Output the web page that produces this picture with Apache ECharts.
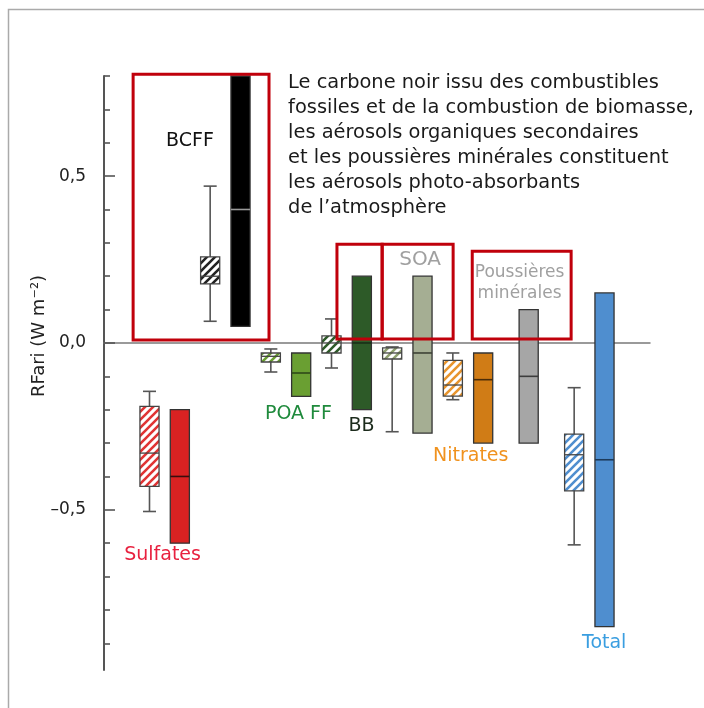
<!DOCTYPE html>
<html><head><meta charset="utf-8">
<script src="https://cdn.jsdelivr.net/npm/echarts@6/dist/echarts.min.js"></script>
<style>html,body{margin:0;padding:0;background:#fff}#c{width:704px;height:708px}</style>
</head><body><div id="c"></div>
<script>
// ---------- data ----------
const groups = ['Sulfates', 'BCFF', 'POA FF', 'BB', 'SOA', 'Nitrates', 'Poussières minérales', 'Total'];
// model ensemble (hatched): [low whisker, q1, median, q3, high whisker]
const ensembleStats = [
  [-0.505, -0.43, -0.33, -0.19, -0.145],
  [0.065, 0.177, 0.2, 0.258, 0.47],
  [-0.087, -0.057, -0.04, -0.03, -0.018],
  [-0.075, -0.03, 0.0, 0.021, 0.072],
  [-0.266, -0.048, -0.03, -0.015, -0.012],
  [-0.17, -0.159, -0.126, -0.052, -0.03],
  null,
  [-0.605, -0.443, -0.335, -0.273, -0.134]
];
// assessed range (solid): [low, best, high]
const assessedRange = [
  [-0.6, -0.4, -0.2],
  [0.05, 0.4, 0.8],
  [-0.16, -0.09, -0.03],
  [-0.2, 0.0, 0.2],
  [-0.27, -0.03, 0.2],
  [-0.3, -0.11, -0.03],
  [-0.3, -0.1, 0.1],
  [-0.85, -0.35, 0.15]
];
// category slots along the x axis
const ensembleSlot = [0, 2, 4, 6, 8, 10, null, 14];
const rangeSlot = [1, 3, 5, 7, 9, 11, 12.5, 15];
// y-axis ticks
const majorTicks = [-0.5, 0, 0.5];
const minorTicks = [-0.9, -0.8, -0.7, -0.6, -0.4, -0.3, -0.2, -0.1, 0.1, 0.2, 0.3, 0.4, 0.6, 0.7, 0.8];
// highlighted regions: [xFrom, xTo, yFrom, yTo]
const highlightBoxes = [
  [-0.54, 3.94, 0.009, 0.805],
  [6.18, 7.67, 0.012, 0.296],
  [7.67, 10.01, 0.012, 0.296],
  [10.64, 13.9, 0.012, 0.275]
];
const labelTexts = ['Sulfates', 'BCFF', 'POA FF', 'BB', 'SOA', 'Nitrates', 'Poussières\nminérales', 'Total'];
const paragraphText = 'Le carbone noir issu des combustibles\nfossiles et de la combustion de biomasse,\nles aérosols organiques secondaires\net les poussières minérales constituent\nles aérosols photo-absorbants\nde l’atmosphère';
const yAxisName = 'RFari (W m⁻²)';

// ---------- styles / layout ----------
const FONT = '"DejaVu Sans", sans-serif';
const fillColors = ['#d92222', '#000000', '#6a9f32', '#2d5a28', '#a5ae93', '#d07c16', '#a6a6a6', '#4f8ecf'];
const medianColors = ['#3a0d0d', '#9a9a9a', '#2f4a18', '#1a2e17', '#3d4236', '#4a2c08', '#3c3c3c', '#1d3a5a'];
const hatchColors = ['#e03434', '#222222', '#6a9f32', '#2d5a28', '#8fa070', '#e8952e', '#888888', '#4f8ecf'];
const labelColors = ['#e8213f', '#111111', '#1f8a3c', '#1c2b1c', '#a0a0a0', '#f0921e', '#a0a0a0', '#3a9ee0'];
const labelAnchors = [[0.43, -0.635], [1.336, 0.605], [4.91, -0.213], [6.99, -0.249], [8.92, 0.249], [10.59, -0.338], [12.2, 0.179], [14.99, -0.9]];
const labelSizes = [19, 19, 19, 19, 20, 19, 17, 19];
const paragraphAnchor = [4.57, 0.818];
const axisTitleAnchor = [-3.628, 0.021];

function makeHatch(color) {
  const s = 8;
  const c = document.createElement('canvas');
  c.width = s; c.height = s;
  const g = c.getContext('2d');
  g.fillStyle = '#ffffff';
  g.fillRect(0, 0, s, s);
  g.strokeStyle = color;
  g.lineWidth = 2.6;
  g.beginPath();
  g.moveTo(0, s); g.lineTo(s, 0);
  g.moveTo(-1, 1); g.lineTo(1, -1);
  g.moveTo(s - 1, s + 1); g.lineTo(s + 1, s - 1);
  g.stroke();
  return { image: c, repeat: 'repeat' };
}
const patterns = hatchColors.map(makeHatch);

const ensembleData = [];
ensembleStats.forEach((st, i) => { if (st) ensembleData.push([ensembleSlot[i]].concat(st).concat([i])); });
const rangeData = assessedRange.map((r, i) => [rangeSlot[i], r[0], r[1], r[2], i]);
const labelData = labelTexts.map((t, i) => [labelAnchors[i][0], labelAnchors[i][1], i]);

const chart = echarts.init(document.getElementById('c'), null, { renderer: 'canvas' });

const option = {
  backgroundColor: '#ffffff',
  animation: false,
  graphic: [{
    type: 'rect', silent: true, z: -10,
    shape: { x: 8.5, y: 9.5, width: 800, height: 800 },
    style: { fill: 'none', stroke: '#aaaaaa', lineWidth: 1.5 }
  }],
  grid: { left: 104, right: 54, top: 76, bottom: 38, containLabel: false },
  xAxis: {
    type: 'value', min: -1.5, max: 16.5,
    axisLine: { show: true, onZero: true, lineStyle: { color: '#7a7a7a', width: 1.5 } },
    axisTick: { show: false }, axisLabel: { show: false }, splitLine: { show: false }
  },
  yAxis: [{
    type: 'value', min: -0.98, max: 0.8, position: 'left',
    axisLine: { show: true, onZero: false, lineStyle: { color: '#555555', width: 2 } },
    axisTick: { show: true, inside: true, length: 11, customValues: majorTicks, lineStyle: { color: '#555555', width: 1.6 } },
    axisLabel: {
      show: true, customValues: majorTicks, margin: 18,
      fontSize: 17, fontFamily: FONT, color: '#222222',
      formatter: v => (v < 0 ? '–' : '') + Math.abs(v).toFixed(1).replace('.', ',')
    },
    splitLine: { show: false }
  }, {
    type: 'value', min: -0.98, max: 0.8, position: 'left',
    axisLine: { show: false, onZero: false },
    axisTick: { show: true, inside: true, length: 6, customValues: minorTicks, lineStyle: { color: '#555555', width: 1.6 } },
    axisLabel: { show: false }, splitLine: { show: false }
  }],
  series: [
    {
      type: 'custom', name: 'assessed', z: 3, clip: false,
      data: rangeData,
      encode: { x: 0, y: [1, 2, 3] },
      renderItem(params, api) {
        const x = api.value(0), lo = api.value(1), md = api.value(2), hi = api.value(3), gi = api.value(4);
        const w = api.size([0.63, 0])[0];
        const pLo = api.coord([x, lo]), pMd = api.coord([x, md]), pHi = api.coord([x, hi]);
        const cx = pLo[0];
        return {
          type: 'group', children: [
            { type: 'rect', shape: { x: cx - w / 2, y: pHi[1], width: w, height: pLo[1] - pHi[1] },
              style: { fill: fillColors[gi], stroke: '#333333', lineWidth: 1.3 } },
            { type: 'line', shape: { x1: cx - w / 2, y1: pMd[1], x2: cx + w / 2, y2: pMd[1] },
              style: { stroke: medianColors[gi], lineWidth: 1.6 } }
          ]
        };
      }
    },
    {
      type: 'custom', name: 'ensemble', z: 3, clip: false,
      data: ensembleData,
      encode: { x: 0, y: [1, 2, 3, 4, 5] },
      renderItem(params, api) {
        const x = api.value(0), lo = api.value(1), q1 = api.value(2), md = api.value(3), q3 = api.value(4), hi = api.value(5), gi = api.value(6);
        const w = api.size([0.63, 0])[0], cw = api.size([0.43, 0])[0];
        const pLo = api.coord([x, lo]), pQ1 = api.coord([x, q1]), pMd = api.coord([x, md]), pQ3 = api.coord([x, q3]), pHi = api.coord([x, hi]);
        const cx = pLo[0];
        const ls = { stroke: '#555555', lineWidth: 1.6 };
        return {
          type: 'group', children: [
            { type: 'line', shape: { x1: cx, y1: pHi[1], x2: cx, y2: pLo[1] }, style: ls },
            { type: 'line', shape: { x1: cx - cw / 2, y1: pHi[1], x2: cx + cw / 2, y2: pHi[1] }, style: ls },
            { type: 'line', shape: { x1: cx - cw / 2, y1: pLo[1], x2: cx + cw / 2, y2: pLo[1] }, style: ls },
            { type: 'rect', shape: { x: cx - w / 2, y: pQ3[1], width: w, height: pQ1[1] - pQ3[1] },
              style: { fill: patterns[gi], stroke: '#444444', lineWidth: 1.3 } },
            { type: 'line', shape: { x1: cx - w / 2, y1: pMd[1], x2: cx + w / 2, y2: pMd[1] },
              style: { stroke: '#444444', lineWidth: 1.3 } }
          ]
        };
      }
    },
    {
      type: 'custom', name: 'highlight', z: 5, clip: false,
      data: highlightBoxes,
      encode: { x: [0, 1], y: [2, 3] },
      renderItem(params, api) {
        const p1 = api.coord([api.value(0), api.value(3)]);
        const p2 = api.coord([api.value(1), api.value(2)]);
        return { type: 'rect', shape: { x: p1[0], y: p1[1], width: p2[0] - p1[0], height: p2[1] - p1[1] },
          style: { fill: 'none', stroke: '#c0000b', lineWidth: 3 } };
      }
    },
    {
      type: 'custom', name: 'labels', z: 6, clip: false, silent: true,
      data: labelData,
      encode: { x: 0, y: 1 },
      renderItem(params, api) {
        const i = api.value(2);
        const p = api.coord([api.value(0), api.value(1)]);
        return { type: 'text', style: { text: labelTexts[i], x: p[0], y: p[1], fill: labelColors[i],
          fontSize: labelSizes[i], fontFamily: FONT, align: 'center', verticalAlign: 'middle', lineHeight: 21 } };
      }
    },
    {
      type: 'custom', name: 'paragraph', z: 6, clip: false, silent: true,
      data: [paragraphAnchor],
      encode: { x: 0, y: 1 },
      renderItem(params, api) {
        const p = api.coord([api.value(0), api.value(1)]);
        return { type: 'text', style: { text: paragraphText, x: p[0], y: p[1], fill: '#1a1a1a',
          fontSize: 19.4, fontFamily: FONT, align: 'left', verticalAlign: 'top', lineHeight: 25 } };
      }
    },
    {
      type: 'custom', name: 'axisTitle', z: 6, clip: false, silent: true,
      data: [axisTitleAnchor],
      encode: { x: 0, y: 1 },
      renderItem(params, api) {
        const p = api.coord([api.value(0), api.value(1)]);
        return { type: 'text', x: p[0], y: p[1], rotation: Math.PI / 2,
          style: { text: yAxisName, x: 0, y: 0, fill: '#222222',
          fontSize: 18, fontFamily: FONT, align: 'center', verticalAlign: 'middle' } };
      }
    }
  ]
};
chart.setOption(option);
</script>
</body></html>
